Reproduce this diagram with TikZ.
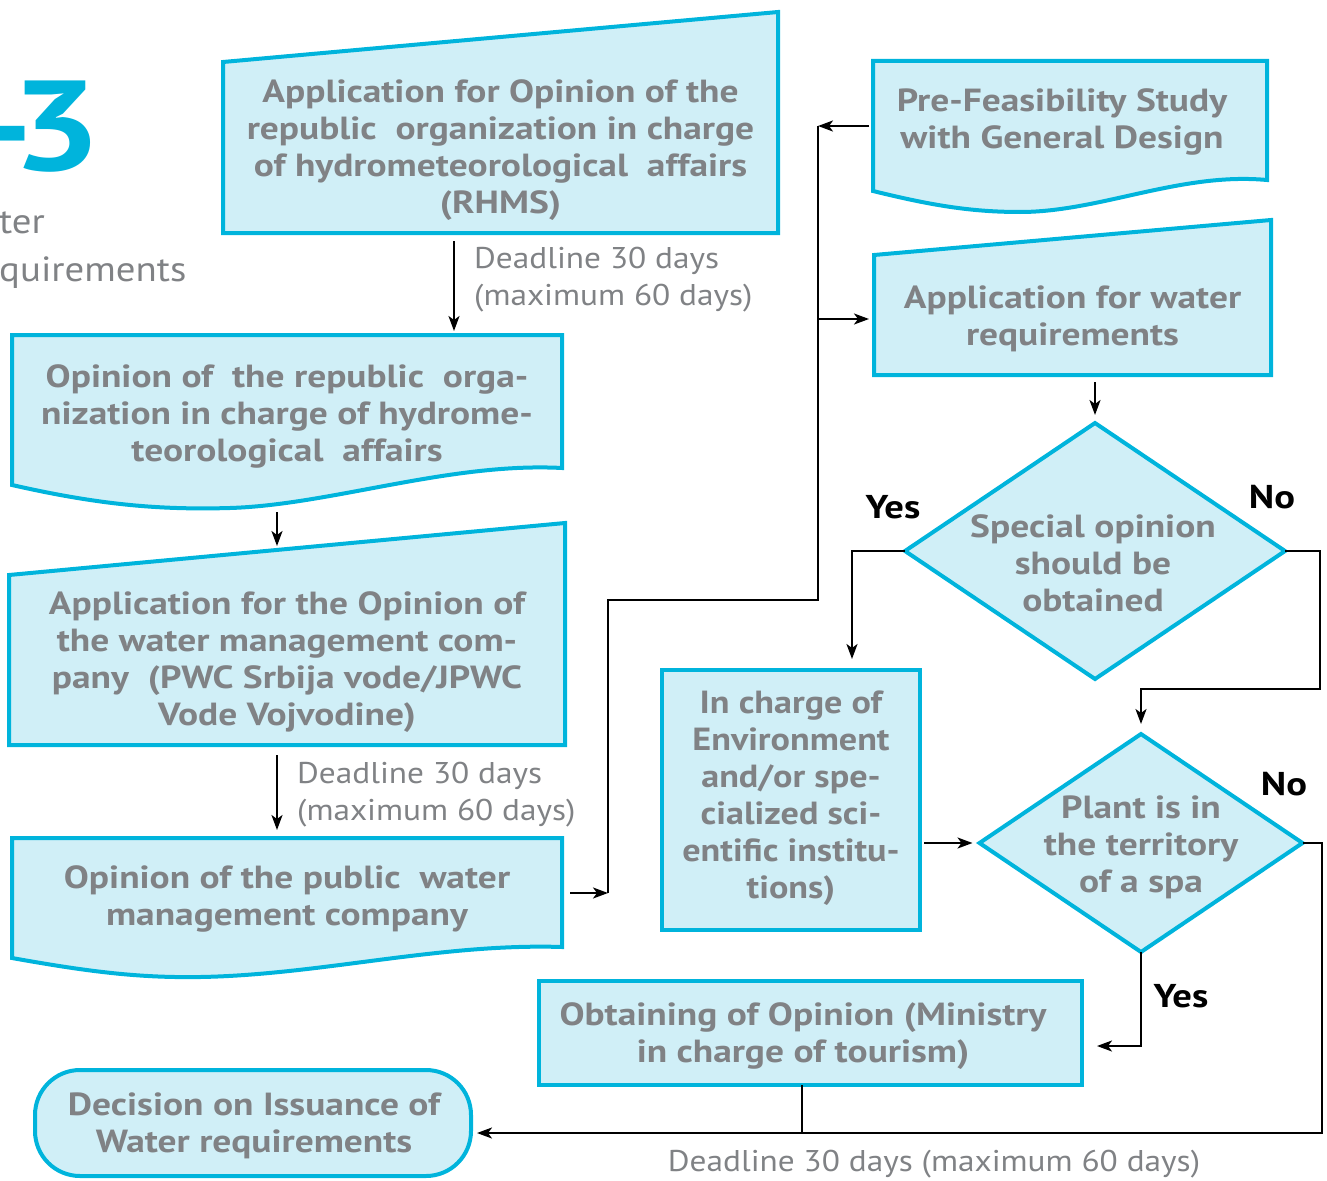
\documentclass[tikz,border=0pt]{standalone}
\usepackage{fontspec}
\setmainfont{PT Sans}[FakeStretch=1.17]
\newfontfamily\envfont{PT Sans}[FakeStretch=1.13]
\newfontfamily\notefont{PT Sans}[FakeStretch=1.11]
\newfontfamily\numfont{PT Sans}[FakeStretch=1.24]
\usetikzlibrary{arrows.meta,calc,shapes.geometric}
\definecolor{flowcyan}{RGB}{0,180,220}
\definecolor{flowfill}{RGB}{208,239,247}
\definecolor{flowgray}{RGB}{128,130,133}

\begin{document}
\begin{tikzpicture}[x=1pt,y=-1pt,
  outline/.style={draw=flowcyan,fill=flowfill,line width=4pt,line join=miter},
  frame/.style={rectangle,inner sep=0pt,outer sep=0pt,align=center,text=flowgray,
    font=\fontsize{32}{37}\selectfont\bfseries},
  procbox/.style={rectangle,inner sep=0pt,outer sep=0pt,draw=flowcyan,fill=flowfill,line width=4pt},
  decision/.style={diamond,draw=flowcyan,fill=flowfill,line width=4pt,inner sep=0pt,outer sep=0pt},
  dtext/.style={align=center,text=flowgray,inner sep=0pt,font=\fontsize{32}{37}\selectfont\bfseries},
  note/.style={align=left,text=flowgray,inner sep=0pt,font=\fontsize{30}{37}\selectfont\notefont},
  answer/.style={text=black,inner sep=0pt,font=\fontsize{33}{36}\selectfont\bfseries},
  link/.style={line width=2.2pt,draw=black},
  arr/.style={link,-{Stealth[length=15pt,width=11pt,inset=4pt]}}
]
\useasboundingbox (0,0) rectangle (1327,1180);

% heading fragments
\node[anchor=base east,inner sep=0pt,text=flowcyan,font=\fontsize{128}{128}\selectfont\numfont\bfseries] (fignum) at (102,170) {-\kern-22pt3};
\node[anchor=base west,inner sep=0pt,text=flowgray,font=\fontsize{35}{40}\selectfont\notefont] (ttla) at (-1,233) {ter};
\node[anchor=base west,inner sep=0pt,text=flowgray,font=\fontsize{35}{40}\selectfont\notefont] (ttlb) at (-1,281) {quirements};

% outlines: manual-input and document shapes
\path[outline] (223,233) -- (223,62) -- (778,12) -- (778,233) -- cycle;
\path[outline] (12,335) -- (562,335) -- (562,468) .. controls (450,462) and (330,505) .. (230,508)
  .. controls (160,510) and (100,505) .. (12,485) -- cycle;
\path[outline] (9,745) -- (9,575) -- (565,523) -- (565,745) -- cycle;
\path[outline] (12,838) -- (562,838) -- (562,947) .. controls (440,943) and (320,975) .. (200,977)
  .. controls (140,978) and (90,972) .. (12,958) -- cycle;
\path[outline] (873,61) -- (1267,61) -- (1267,180) .. controls (1180,172) and (1100,212) .. (1020,212)
  .. controls (970,212) and (930,205) .. (873,191) -- cycle;
\path[outline] (874,375) -- (874,255) -- (1271,220) -- (1271,375) -- cycle;

% box texts
\node[frame,minimum width=555pt,minimum height=171pt] (rhms) at (500.5,150.5)
  {Application for Opinion of the\\republic~ organization in charge\\of hydrometeorological~ affairs\\(RHMS)};
\node[frame,minimum width=550pt,minimum height=155pt] (org) at (287,416.5)
  {Opinion of~ the republic~ orga-\\nization in charge of hydrome-\\teorological~ affairs};
\node[frame,minimum width=556pt,minimum height=170pt] (app2) at (287,662)
  {Application for the Opinion of\\the water management com-\\pany~ (PWC Srbija vode/JPWC\\Vode Vojvodine)};
\node[frame,minimum width=550pt,minimum height=114pt] (pwc) at (287,899)
  {Opinion of the public~ water\\management company};
\node[frame,minimum width=378pt] (pfs) at (1062,122)
  {Pre-Feasibility Study\\with General Design};
\node[frame,minimum width=397pt,minimum height=120pt] (appw) at (1072.5,319)
  {Application for water\\requirements};

% decisions
\node[decision,minimum width=380pt,minimum height=256pt] (sp) at (1095,551) {};
\node[dtext] (sptxt) at (1093,563) {Special opinion\\should be\\obtained};
\node[decision,minimum width=323pt,minimum height=218pt] (spa) at (1141,843) {};
\node[dtext] (spatxt) at (1141,847) {Plant is in\\the territory\\of a spa};

% process boxes
\node[procbox,minimum width=258pt,minimum height=260pt] (env) at (791,800) {};
\node[dtext,font=\fontsize{32}{37}\selectfont\envfont\bfseries] (envtxt) at (791,798)
  {In charge of\\Environment\\and/or spe-\\cialized sci-\\entific institu-\\tions)};
\node[procbox,minimum width=543pt,minimum height=104pt] (tour) at (810.5,1033) {};
\node[dtext] (tourtxt) at (803,1036) {Obtaining of Opinion (Ministry\\in charge of tourism)};
\node[procbox,rounded corners=45pt,minimum width=436pt,minimum height=106pt] (dec) at (253,1123) {};
\node[dtext] (dectxt) at (254,1126) {Decision on Issuance of\\Water requirements};

% notes and answers
\node[note,anchor=west] (dl1) at (474,280) {Deadline 30 days\\(maximum 60 days)};
\node[note,anchor=west] (dl2) at (297,795) {Deadline 30 days\\(maximum 60 days)};
\node[note] (dl3) at (934,1164) {Deadline 30 days (maximum 60 days)};
\node[answer] (yes1) at (893,507) {Yes};
\node[answer] (no1) at (1272,497) {No};
\node[answer] (no2) at (1284,784) {No};
\node[answer] (yes2) at (1181,996) {Yes};

% routing points
\coordinate (c454) at (454,0);
\coordinate (c277) at (277,0);
\coordinate (c852) at (852,0);
\coordinate (c802) at (802,0);
\coordinate (j0) at (608,893);
\coordinate (j1) at (608,600);
\coordinate (j2) at (818,600);
\coordinate (j3) at (818,126);
\coordinate (j4) at (818,319);
\coordinate (k1) at (1320,689);
\coordinate (k2) at (1322,1133);
\coordinate (k3) at (1141,1046);

% connectors
\draw[arr,shorten <=5pt,shorten >=8pt] (rhms.south -| c454) -- (org.north -| c454);
\draw[arr] ($(org.south -| c277)+(0,18)$) -- ($(app2.north -| c277)+(0,-31)$);
\draw[arr,shorten <=8pt,shorten >=12pt] (app2.south -| c277) -- (pwc.north -| c277);
\draw[arr,shorten <=8pt] (pwc.east |- j0) -- (j0);
\draw[link] (j0) -- (j1) -- (j2) -- (j3);
\draw[arr,shorten <=4pt] (pfs.west |- j3) -- (j3);
\draw[arr,shorten >=5pt] (j4) -- (appw.west |- j4);
\draw[arr,shorten <=3pt,shorten >=8pt] (appw.south -| sp.north) -- (sp.north);
\draw[arr,shorten >=11pt] (sp.west) -- (sp.west -| c852) -- (env.north -| c852);
\draw[arr,shorten >=10pt] (sp.east) -- (sp.east -| k1) -- (k1) -- (k1 -| spa.north) -- (spa.north);
\draw[arr,shorten <=4pt,shorten >=7pt] (env.east |- spa.west) -- (spa.west);
\draw[arr,shorten >=6pt] (spa.east) -- (spa.east -| k2) -- (k2) -- (k2 -| dec.east);
\draw[arr,shorten >=15pt] (spa.south) -- (k3) -- (k3 -| tour.east);
\draw[link] (tour.south -| c802) -- (c802 |- k2);
\end{tikzpicture}
\end{document}
